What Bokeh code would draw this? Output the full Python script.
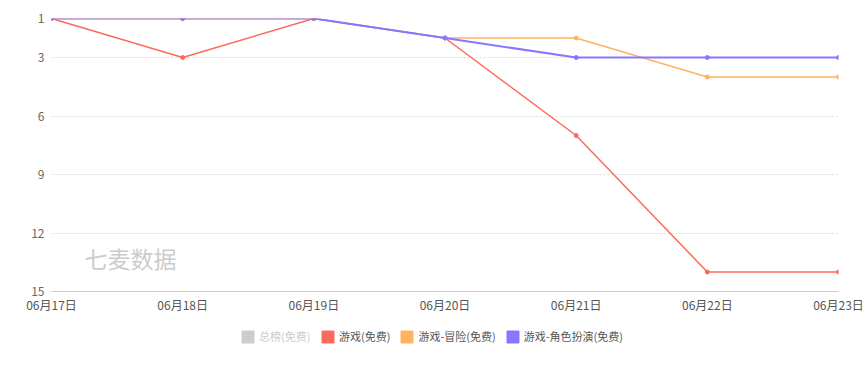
from bokeh.plotting import figure
from bokeh.layouts import column
from bokeh.models import Range1d, FixedTicker, Legend, LegendItem, Label
from bokeh.embed import file_html
from bokeh.resources import INLINE

dates = ["06月17日", "06月18日", "06月19日", "06月20日", "06月21日", "06月22日", "06月23日"]
game_free = [1, 3, 1, 2, 7, 14, 14]
adventure_free = [1, 1, 1, 2, 2, 4, 4]
rpg_free = [1, 1, 1, 2, 3, 3, 3]
y_ticks = [1, 3, 6, 9, 12, 15]
legend_labels = ["总榜(免费)", "游戏(免费)", "游戏-冒险(免费)", "游戏-角色扮演(免费)"]

FONT = "Noto Sans CJK SC"
RED = "#fa6a5e"
ORANGE = "#feb35e"
PURPLE = "#8777ff"
GRAY = "#cccccc"

xs = list(range(len(dates)))

p = figure(frame_width=787, frame_height=273, output_backend="svg", toolbar_location=None,
           x_range=Range1d(0, len(dates) - 1), y_range=Range1d(15, 1),
           min_border_left=51, min_border_right=28, min_border_top=18, min_border_bottom=27)
p.outline_line_color = None
p.background_fill_color = "white"

p.xaxis.ticker = FixedTicker(ticks=xs)
p.xaxis.major_label_overrides = {i: d for i, d in enumerate(dates)}
p.xaxis.axis_line_color = "#cccccc"
p.xaxis.major_tick_line_color = None
p.xaxis.major_tick_out = 0
p.xaxis.major_tick_in = 0
p.xaxis.minor_tick_line_color = None
p.xaxis.major_label_standoff = 4
p.xaxis.major_label_text_font = FONT
p.xaxis.major_label_text_font_size = "12px"
p.xaxis.major_label_text_color = "#555555"

p.yaxis.ticker = FixedTicker(ticks=y_ticks)
p.yaxis.axis_line_color = None
p.yaxis.major_tick_line_color = None
p.yaxis.major_tick_out = 0
p.yaxis.major_tick_in = 0
p.yaxis.minor_tick_line_color = None
p.yaxis.major_label_standoff = 7
p.yaxis.major_label_text_font = FONT
p.yaxis.major_label_text_font_size = "12px"
p.yaxis.major_label_text_color = "#666666"

p.xgrid.grid_line_color = None
p.ygrid.grid_line_color = "#dddddd"
p.ygrid.grid_line_dash = "2 2"
p.ygrid.grid_line_width = 1

p.add_layout(Label(x=79, y=34, x_units="screen", y_units="screen", text="七麦数据",
                   text_font=FONT, text_font_size="23px", text_color="#cccccc",
                   text_align="center", text_baseline="middle"))

p.line(xs, game_free, line_color=RED, line_width=1.5)
p.scatter(xs, game_free, size=4, color=RED)
p.line(xs, adventure_free, line_color=ORANGE, line_width=1.5)
p.scatter(xs, adventure_free, size=4, color=ORANGE)
p.line(xs, rpg_free, line_color=PURPLE, line_width=2)
p.scatter(xs, rpg_free, size=4, color=PURPLE)

# legend strip
lg = figure(width=866, height=36, output_backend="svg", toolbar_location=None,
            x_axis_location=None, y_axis_location=None,
            min_border_left=0, min_border_right=0, min_border_top=0, min_border_bottom=0)
lg.outline_line_color = None
lg.grid.grid_line_color = None
nan = [float("nan")]
swatches = [lg.quad(left=nan, right=nan, bottom=nan, top=nan, color=c)
            for c in [GRAY, RED, ORANGE, PURPLE]]

common = dict(orientation="horizontal",
              label_text_font=FONT, label_text_font_size="11px",
              glyph_width=15, glyph_height=15, label_standoff=4, spacing=9,
              border_line_color=None, background_fill_alpha=0, margin=0, padding=5)
X0 = 189
leg_off = Legend(items=[LegendItem(label=legend_labels[0], renderers=[swatches[0]])],
                 location=(X0, 10), label_text_color="#cccccc", **common)
leg_on = Legend(items=[LegendItem(label=l, renderers=[r]) for l, r in zip(legend_labels[1:], swatches[1:])],
                location=(X0 + 80, 10), label_text_color="#555555", **common)
lg.add_layout(leg_off, "center")
lg.add_layout(leg_on, "center")

open("out.html", "w").write(file_html(column(p, lg, spacing=0), INLINE))
